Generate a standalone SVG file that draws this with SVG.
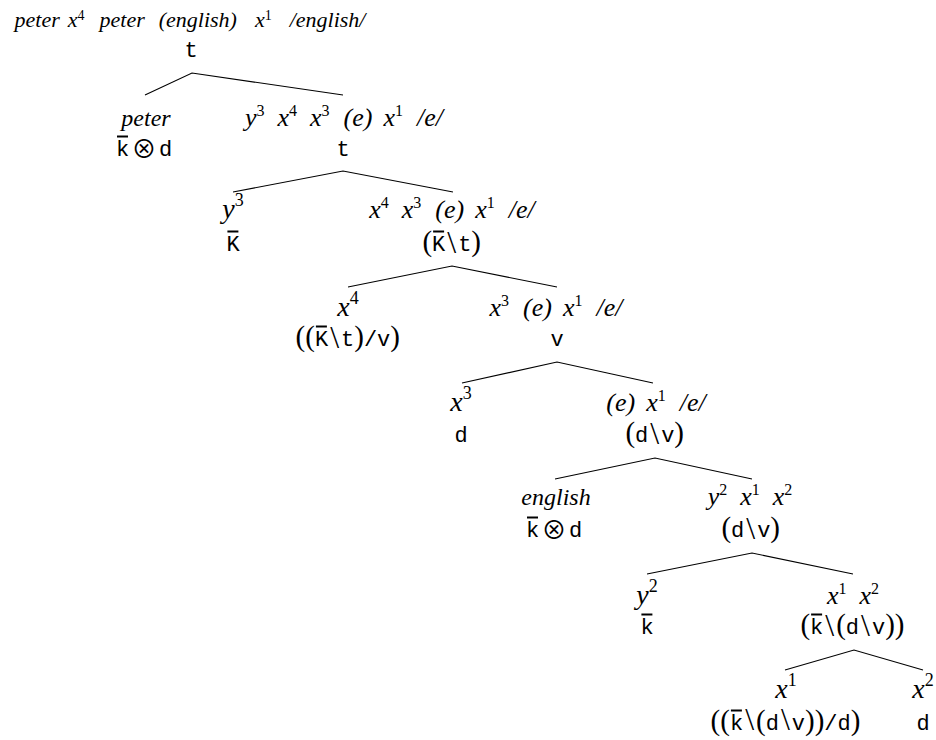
<svg xmlns="http://www.w3.org/2000/svg" width="936" height="740" viewBox="0 0 936 740">
<style>
text{fill:#000}
.lab0{font-family:"Liberation Serif",serif;font-style:italic;font-size:22px;text-anchor:middle}
.s0{font-size:14px;font-style:normal}
.lab{font-family:"Liberation Serif",serif;font-style:italic;font-size:26px;text-anchor:middle}
.lab1{font-family:"Liberation Serif",serif;font-style:italic;font-size:24px;text-anchor:middle}
.s{font-size:16px;font-style:normal}
.big{font-family:"Liberation Serif",serif;font-style:italic;font-size:28px;text-anchor:middle}
.sb{font-size:18px;font-style:normal}
.tt{font-family:"Liberation Mono",monospace;font-size:22px}
.mid{text-anchor:middle}
.p{font-family:"Liberation Serif",serif;font-size:29px;font-style:normal}
.b{font-family:"Liberation Serif",serif;font-size:32px;font-style:normal}
.ot{font-family:"Noto Sans CJK JP","DejaVu Sans",sans-serif;font-size:25px;text-anchor:middle}
.bar{stroke:#000;stroke-width:2}
.edge{fill:none;stroke:#000;stroke-width:1.1}
</style>
<g id="connectors">
<polyline class="edge" points="145,95 192,73 343,95"/>
<polyline class="edge" points="233,192 343,171 453,192"/>
<polyline class="edge" points="348,287 452,266 557,287"/>
<polyline class="edge" points="462,383 557,362 653,383"/>
<polyline class="edge" points="555,479 655,458 752,479"/>
<polyline class="edge" points="647,574 752,553 853,574"/>
<polyline class="edge" points="785,670 854,650 923,670"/>
</g>
<g id="n0">
<text class="lab0" x="190" y="27">peter<tspan dx="8">x</tspan><tspan class="s0" dy="-7">4</tspan><tspan dx="15" dy="7">peter</tspan><tspan dx="14">(english)</tspan><tspan dx="18">x</tspan><tspan class="s0" dy="-7">1</tspan><tspan dx="18" dy="7">/english/</tspan></text>
<text class="tt mid" x="191" y="57">t</text>
</g>
<g id="n_peter">
<text class="lab1" x="146" y="126">peter</text>
<text class="tt" x="116" y="156">k</text>
<line class="bar" x1="117" y1="136.5" x2="128" y2="136.5"/>
<text class="ot" x="144" y="158">⊗</text>
<text class="tt" x="159" y="156">d</text>
</g>
<g id="n1">
<text class="lab" x="344" y="126">y<tspan class="s" dy="-10">3</tspan><tspan dx="13" dy="10">x</tspan><tspan class="s" dy="-10">4</tspan><tspan dx="13" dy="10">x</tspan><tspan class="s" dy="-10">3</tspan><tspan dx="14" dy="10">(e)</tspan><tspan dx="11">x</tspan><tspan class="s" dy="-10">1</tspan><tspan dx="14" dy="10">/e/</tspan></text>
<text class="tt mid" x="343" y="156">t</text>
</g>
<g id="n_y3">
<text class="big" x="233" y="218">y<tspan class="sb" dy="-12">3</tspan></text>
<text class="tt" x="226.4" y="251">K</text>
<line class="bar" x1="227.4" y1="231.5" x2="238.4" y2="231.5"/>
</g>
<g id="n2">
<text class="lab" x="452" y="218">x<tspan class="s" dy="-10">4</tspan><tspan dx="13" dy="10">x</tspan><tspan class="s" dy="-10">3</tspan><tspan dx="14" dy="10">(e)</tspan><tspan dx="11">x</tspan><tspan class="s" dy="-10">1</tspan><tspan dx="14" dy="10">/e/</tspan></text>
<text class="tt" x="422.4" y="251"><tspan class="p">(</tspan>K<tspan class="b" dx="2" dy="2">\</tspan><tspan dx="2" dy="-2">t</tspan><tspan class="p">)</tspan></text>
<line class="bar" x1="433.1" y1="231.5" x2="444.1" y2="231.5"/>
</g>
<g id="n_x4">
<text class="big" x="348" y="316">x<tspan class="sb" dy="-12">4</tspan></text>
<text class="tt" x="295.6" y="346"><tspan class="p">((</tspan>K<tspan class="b" dx="2" dy="2">\</tspan><tspan dx="2" dy="-2">t</tspan><tspan class="p">)</tspan>/v<tspan class="p">)</tspan></text>
<line class="bar" x1="315.9" y1="326.5" x2="326.9" y2="326.5"/>
</g>
<g id="n3">
<text class="lab" x="556" y="316">x<tspan class="s" dy="-10">3</tspan><tspan dx="14" dy="10">(e)</tspan><tspan dx="11">x</tspan><tspan class="s" dy="-10">1</tspan><tspan dx="14" dy="10">/e/</tspan></text>
<text class="tt mid" x="557" y="346">v</text>
</g>
<g id="n_x3">
<text class="big" x="461" y="411">x<tspan class="sb" dy="-12">3</tspan></text>
<text class="tt mid" x="461" y="442">d</text>
</g>
<g id="n4">
<text class="lab" x="656" y="411">(e)<tspan dx="11">x</tspan><tspan class="s" dy="-10">1</tspan><tspan dx="14" dy="10">/e/</tspan></text>
<text class="tt" x="625.4" y="442"><tspan class="p">(</tspan>d<tspan class="b" dx="2" dy="2">\</tspan><tspan dx="2" dy="-2">v</tspan><tspan class="p">)</tspan></text>
</g>
<g id="n_english">
<text class="lab1" x="556" y="505">english</text>
<text class="tt" x="526" y="537">k</text>
<line class="bar" x1="527" y1="517.5" x2="538" y2="517.5"/>
<text class="ot" x="554" y="539">⊗</text>
<text class="tt" x="569" y="537">d</text>
</g>
<g id="n5">
<text class="lab" x="750" y="505">y<tspan class="s" dy="-10">2</tspan><tspan dx="13" dy="10">x</tspan><tspan class="s" dy="-10">1</tspan><tspan dx="13" dy="10">x</tspan><tspan class="s" dy="-10">2</tspan></text>
<text class="tt" x="721.4" y="537"><tspan class="p">(</tspan>d<tspan class="b" dx="2" dy="2">\</tspan><tspan dx="2" dy="-2">v</tspan><tspan class="p">)</tspan></text>
</g>
<g id="n_y2">
<text class="big" x="647" y="604">y<tspan class="sb" dy="-12">2</tspan></text>
<text class="tt" x="640.4" y="634">k</text>
<line class="bar" x1="641.4" y1="614.5" x2="652.4" y2="614.5"/>
</g>
<g id="n6">
<text class="lab" x="853" y="604">x<tspan class="s" dy="-10">1</tspan><tspan dx="13" dy="10">x</tspan><tspan class="s" dy="-10">2</tspan></text>
<text class="tt" x="800.4" y="634"><tspan class="p">(</tspan>k<tspan class="b" dx="2" dy="2">\</tspan><tspan class="p" dx="2" dy="-2">(</tspan>d<tspan class="b" dx="2" dy="2">\</tspan><tspan dx="2" dy="-2">v</tspan><tspan class="p">))</tspan></text>
<line class="bar" x1="811.1" y1="614.5" x2="822.1" y2="614.5"/>
</g>
<g id="n_x1">
<text class="big" x="786" y="698">x<tspan class="sb" dy="-12">1</tspan></text>
<text class="tt" x="710.6" y="730"><tspan class="p">((</tspan>k<tspan class="b" dx="2">\</tspan><tspan class="p" dx="2">(</tspan>d<tspan class="b" dx="2">\</tspan><tspan dx="2">v</tspan><tspan class="p">))</tspan>/d<tspan class="p">)</tspan></text>
<line class="bar" x1="730.9" y1="710.5" x2="741.9" y2="710.5"/>
</g>
<g id="n_x2">
<text class="big" x="923" y="698">x<tspan class="sb" dy="-12">2</tspan></text>
<text class="tt mid" x="923" y="730">d</text>
</g>
</svg>
